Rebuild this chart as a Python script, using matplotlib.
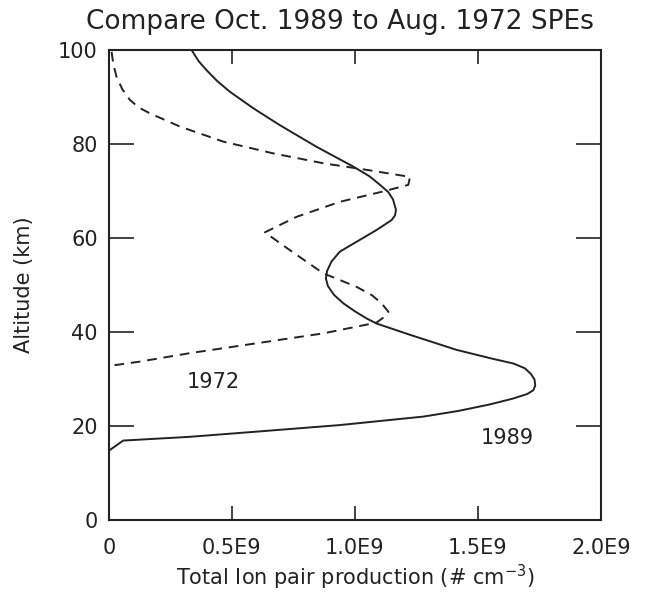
import matplotlib
matplotlib.use("Agg")
import matplotlib.pyplot as plt

# Ion pair production profiles (units of 1E9 cm^-3) vs altitude (km)
prod_1989 = [0.336, 0.365, 0.397, 0.440, 0.492, 0.587, 0.695, 0.844, 0.993, 1.060,
             1.102, 1.135, 1.155, 1.167, 1.163, 1.149, 1.088, 1.007, 0.939, 0.905,
             0.887, 0.882, 0.890, 0.915, 0.953, 1.000, 1.047, 1.088, 1.224, 1.413,
             1.560, 1.644, 1.690, 1.715, 1.730, 1.733, 1.725, 1.700, 1.640, 1.549,
             1.420, 1.278, 0.939, 0.600, 0.329, 0.058, 0.004]
alt_1989 = [100.0, 97.6, 95.7, 93.4, 91.1, 87.6, 84.0, 79.4, 75.2, 73.1,
            71.3, 69.8, 68.2, 66.0, 64.8, 63.8, 61.7, 59.2, 57.1, 55.0,
            53.0, 51.4, 49.8, 47.9, 46.1, 44.4, 42.9, 41.8, 39.4, 36.2,
            34.3, 33.3, 32.3, 31.1, 29.9, 28.6, 27.6, 26.8, 25.8, 24.6,
            23.2, 22.0, 20.2, 18.8, 17.7, 16.9, 14.9]

prod_1972 = [0.011, 0.018, 0.031, 0.055, 0.085, 0.120, 0.167, 0.289, 0.465, 0.668,
             0.871, 1.047, 1.224, 1.217, 1.115, 0.939, 0.763, 0.634, 0.736, 0.871,
             1.007, 1.070, 1.110, 1.136, 1.129, 1.088, 0.871, 0.600, 0.329, 0.126,
             0.004]
alt_1972 = [99.6, 97.0, 94.3, 91.6, 89.4, 87.8, 86.5, 83.7, 80.5, 78.0,
            75.9, 74.5, 73.0, 71.3, 69.9, 67.7, 64.5, 61.2, 57.4, 52.5,
            49.6, 47.8, 46.0, 44.3, 43.6, 42.0, 39.7, 37.6, 35.5, 33.7,
            32.8]

xticks = [0, 0.5, 1.0, 1.5, 2.0]
xtick_labels = ["0", "0.5E9", "1.0E9", "1.5E9", "2.0E9"]
yticks = [0, 20, 40, 60, 80, 100]

ink = "#222222"

fig = plt.figure(figsize=(6.64, 5.92), dpi=100)
ax = fig.add_axes([0.164, 0.1216, 0.741, 0.794])

ax.plot(prod_1989, alt_1989, color=ink, lw=1.4)
ax.plot(prod_1972, alt_1972, color=ink, lw=1.4, ls=(0, (5, 3.5)))

ax.text(0.423, 29.4, "1972", fontsize=15, color=ink, ha="center", va="center")
ax.text(1.618, 17.4, "1989", fontsize=15, color=ink, ha="center", va="center")

ax.set_xlim(0, 2.0)
ax.set_ylim(0, 100)
ax.set_xticks(xticks)
ax.set_xticklabels(xtick_labels)
ax.set_yticks(yticks)
ax.tick_params(axis="x", direction="in", length=10, width=1.2, top=True,
               labelsize=15, colors=ink, pad=13)
ax.tick_params(axis="y", direction="in", length=18, width=1.2, right=True,
               labelsize=15, colors=ink, pad=8)
for sp in ax.spines.values():
    sp.set_linewidth(1.5)
    sp.set_color(ink)

ax.set_xlabel("Total Ion pair production (# cm$^{-3}$)", fontsize=15, color=ink)
ax.set_ylabel("Altitude (km)", fontsize=15, color=ink)
ax.xaxis.set_label_coords(0.5, -0.123)
ax.yaxis.set_label_coords(-0.173, 0.5)
for lbl in (ax.xaxis.label, ax.yaxis.label):
    lbl.set_verticalalignment("center")
fig.text(0.512, 0.963, "Compare Oct. 1989 to Aug. 1972 SPEs", fontsize=19,
         color=ink, ha="center", va="center")

fig.savefig("out.png", dpi=100)
